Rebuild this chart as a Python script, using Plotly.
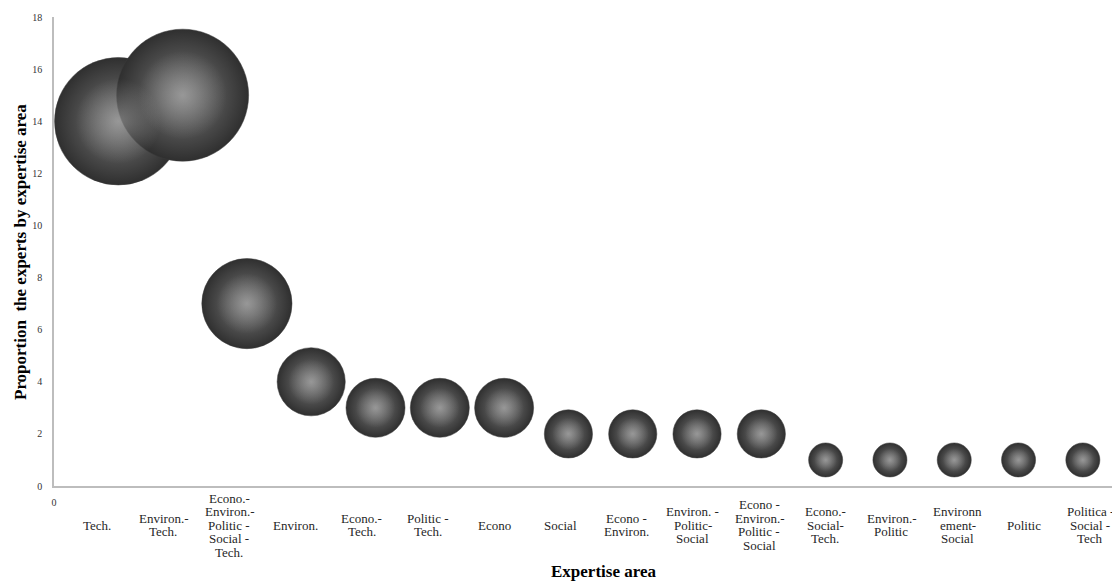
import plotly.graph_objects as go

# ---- data ----
categories = [
    "Tech.", "Environ.-<br>Tech.", "Econo.-<br>Environ.-<br>Politic -<br>Social -<br>Tech.",
    "Environ.", "Econo.-<br>Tech.", "Politic -<br>Tech.", "Econo", "Social",
    "Econo -<br>Environ.", "Environ. -<br>Politic-<br>Social", "Econo -<br>Environ.-<br>Politic -<br>Social",
    "Econo.-<br>Social-<br>Tech.", "Environ.-<br>Politic", "Environn<br>ement-<br>Social", "Politic",
    "Politica -<br>Social -<br>Tech",
]
positions = list(range(1, 17))
proportions = [14, 15, 7, 4, 3, 3, 3, 2, 2, 2, 2, 1, 1, 1, 1, 1]
y_ticks = [0, 2, 4, 6, 8, 10, 12, 14, 16, 18]

OFF = 8  # default page body margin
W, H = 1120 - OFF, 582 - OFF
# target plot area in page pixels: x 54..1115, y 17..486
ML = 54 - OFF
MT = 17 - OFF
MR = W - (1115 - OFF)
MB = H - (486 - OFF)
PW = W - ML - MR
PH = H - MT - MB
SERIF = "Liberation Serif, Times New Roman, serif"
MAX_D = 132
sizeref = 2 * max(proportions) / MAX_D ** 2


def px_x(p):
    return (p - OFF - ML) / PW


def px_y(p):
    return (H - MB - (p - OFF)) / PH


fig = go.Figure()
# sphere body
fig.add_trace(go.Scatter(
    x=positions, y=proportions, mode="markers",
    marker=dict(
        size=proportions, sizemode="area", sizeref=sizeref,
        color="#2f2f2f", opacity=1,
        gradient=dict(type="radial", color="#7c7c7c"),
        line=dict(width=0.5, color="#3a3a3a"),
    ),
    hoverinfo="x+y", showlegend=False, cliponaxis=False,
))
# sphere highlight
fig.add_trace(go.Scatter(
    x=positions, y=proportions, mode="markers",
    marker=dict(
        size=proportions, sizemode="area", sizeref=sizeref / 0.45, opacity=1,
        color="rgba(150,150,150,0)",
        gradient=dict(type="radial", color="rgba(170,170,170,0.6)"),
        line=dict(width=0),
    ),
    hoverinfo="skip", showlegend=False, cliponaxis=False,
))

# category labels (one annotation per line for tight line spacing)
line_h = 13.5
annotations = []
for i, lab in enumerate(categories):
    lines = lab.split("<br>")
    n = len(lines)
    for j, ln in enumerate(lines):
        annotations.append(dict(
            x=px_x(97 + 66.2 * i), y=px_y(525), xref="paper", yref="paper",
            text=ln, showarrow=False, xanchor="center", yanchor="middle",
            yshift=((n - 1) / 2 - j) * line_h,
            font=dict(family=SERIF, size=13, color="#262626"),
        ))

annotations.append(dict(
    x=px_x(603), y=px_y(571), xref="paper", yref="paper",
    text="<b>Expertise area</b>", showarrow=False, xanchor="center", yanchor="middle",
    font=dict(family=SERIF, size=17, color="#000000"),
))
annotations.append(dict(
    x=px_x(20), y=px_y(252), xref="paper", yref="paper",
    text="<b>Proportion  the experts by expertise area</b>", showarrow=False,
    xanchor="center", yanchor="middle", textangle=-90,
    font=dict(family=SERIF, size=17, color="#000000"),
))

fig.update_layout(
    width=W, height=H,
    margin=dict(l=ML, r=MR, t=MT, b=MB, autoexpand=False),
    paper_bgcolor="white", plot_bgcolor="white",
    annotations=annotations,
    xaxis=dict(
        range=[0, 16.5], showgrid=False, zeroline=False,
        showline=True, linecolor="#bdbdbd", linewidth=1.5,
        tickmode="array", tickvals=[0], ticktext=["0"], ticks="",
        ticklabelstandoff=6,
        tickfont=dict(family=SERIF, size=10, color="#333333"),
    ),
    yaxis=dict(
        range=[0, 18], showgrid=False, zeroline=False,
        showline=True, linecolor="#bdbdbd", linewidth=1.5,
        tickmode="array", tickvals=y_ticks, ticks="",
        ticklabelstandoff=8,
        tickfont=dict(family=SERIF, size=10, color="#333333"),
    ),
)

fig.write_html("out.html")
